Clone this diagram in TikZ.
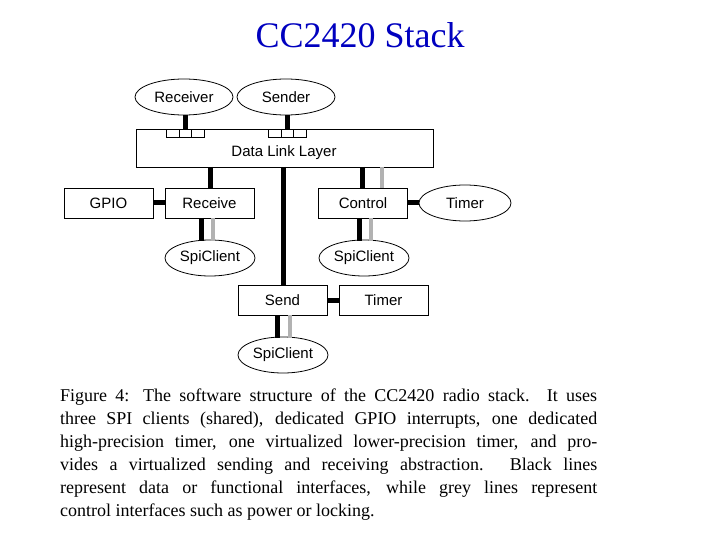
\documentclass[tikz,border=0pt]{standalone}
\usepackage{fontspec}
\setmainfont{Liberation Serif}
\newfontfamily\diag{Liberation Sans}
\usetikzlibrary{shapes.geometric}
\begin{document}
\begin{tikzpicture}[x=1pt,y=-1pt,
  box/.style={draw,line width=0.8pt,minimum width=89pt,minimum height=30pt,inner sep=0pt,font=\diag\fontsize{15}{15}\selectfont},
  ell/.style={draw,ellipse,line width=0.8pt,minimum width=92pt,minimum height=36pt,inner sep=0pt,font=\diag\fontsize{15}{15}\selectfont},
  blk/.style={line width=5pt},
  gry/.style={line width=4pt,color=black!30},
  sq/.style={draw,line width=0.8pt,minimum width=12.7pt,minimum height=8pt,inner sep=0pt,anchor=north west},
  captxt/.style={anchor=base west,inner sep=0pt,font=\fontsize{18}{18}\selectfont}]
\useasboundingbox (0,0) rectangle (720,540);
\node[font=\fontsize{36}{36}\selectfont,text=blue!75!black] (title) at (360,35) {CC2420 Stack};
\node[ell,minimum width=98pt] (rcvr) at (184,97) {Receiver};
\node[ell,minimum width=98pt] (sndr) at (286,97) {Sender};
\node[box,minimum width=297pt,minimum height=38pt] (dll) at (284.5,148) {};
\node[font=\diag\fontsize{15}{15}\selectfont] (dllt) at (284,153) {Data Link Layer};
\node[sq] (s1) at (166,129) {};
\node[sq] (s2) at (178.7,129) {};
\node[sq] (s3) at (191.4,129) {};
\node[sq] (s4) at (268,129) {};
\node[sq] (s5) at (280.7,129) {};
\node[sq] (s6) at (293.4,129) {};
\node[box] (gpio) at (108.5,203) {GPIO};
\node[box] (recv) at (209.5,203) {Receive};
\node[box] (ctrl) at (363,203) {Control};
\node[ell] (tim1) at (465,203) {Timer};
\node[ell,minimum width=90pt] (spi1) at (210,258) {SpiClient};
\node[ell,minimum width=90pt] (spi2) at (364,258) {SpiClient};
\node[box] (send) at (282.5,300.5) {Send};
\node[box] (tim2) at (383.5,300.5) {Timer};
\node[ell,minimum width=90pt] (spi3) at (283,355) {SpiClient};
% connectors
\draw[blk] (185,115) -- (185,129);
\draw[blk] (287,115) -- (287,129);
\draw[blk] (210,167) -- (210,188);
\draw[blk] (283,167) -- (283,286);
\draw[blk] (362,167) -- (362,188);
\draw[gry] (382,167) -- (382,188);
\draw[blk] (gpio.east) -- (recv.west);
\draw[blk] (ctrl.east) -- (tim1.west);
\draw[blk] (201,218) -- (201,241);
\draw[gry] (213,218) -- (213,241);
\draw[blk] (359,218) -- (359,241);
\draw[gry] (371,218) -- (371,241);
\draw[blk] (send.east) -- (tim2.west);
\draw[blk] (277,315) -- (277,338);
\draw[gry] (290,315) -- (290,338);
% caption
\node[captxt] (c1) at (60,401) {\makebox[537pt][s]{Figure 4: The software structure of the CC2420 radio stack. It uses}};
\node[captxt] (c2) at (60,424) {\makebox[537pt][s]{three SPI clients (shared), dedicated GPIO interrupts, one dedicated}};
\node[captxt] (c3) at (60,447) {\makebox[537pt][s]{high-precision timer, one virtualized lower-precision timer, and pro-}};
\node[captxt] (c4) at (60,470) {\makebox[537pt][s]{vides a virtualized sending and receiving abstraction. Black lines}};
\node[captxt] (c5) at (60,493) {\makebox[537pt][s]{represent data or functional interfaces, while grey lines represent}};
\node[captxt] (c6) at (60,516) {control interfaces such as power or locking.};
\end{tikzpicture}
\end{document}
